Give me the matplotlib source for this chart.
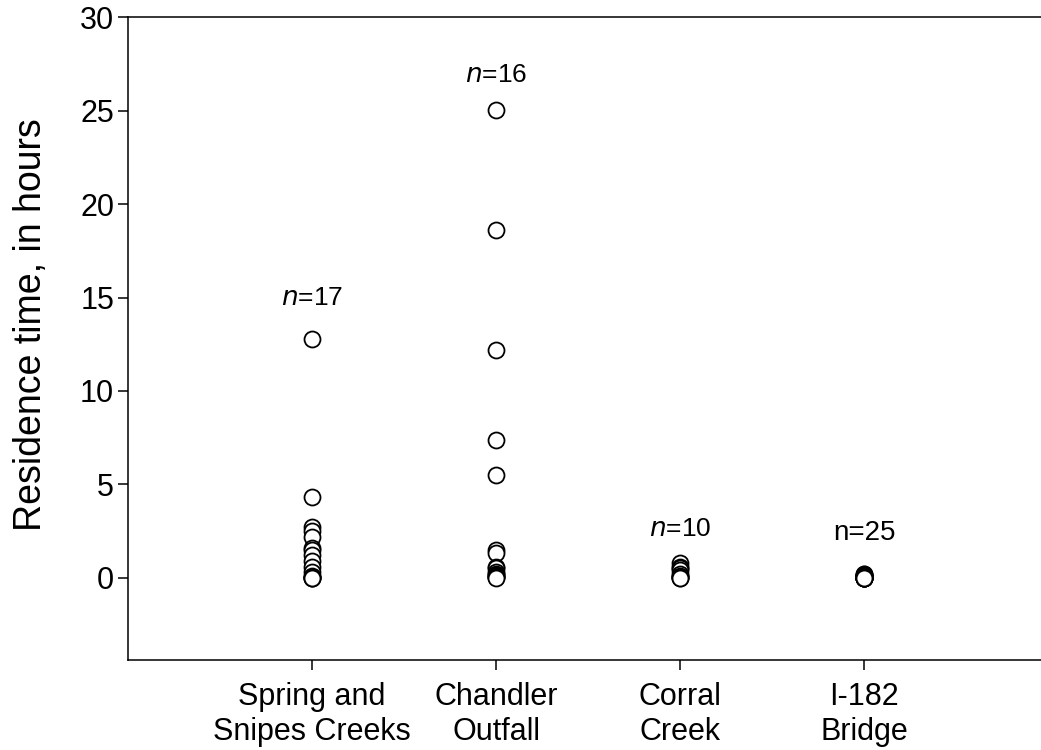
import numpy as np
import matplotlib
matplotlib.use("Agg")
import matplotlib.pyplot as plt

plt.rcParams['font.family'] = ['Liberation Sans', 'DejaVu Sans']

sites = ["Spring and\nSnipes Creeks", "Chandler\nOutfall", "Corral\nCreek", "I-182\nBridge"]

spring = [12.8, 4.3, 2.7, 2.5, 2.2, 1.6, 1.5, 1.2, 0.9, 0.6, 0.3, 0.1, 0.05, 0.02, 0.0, 0.0, 0.0]
chandler = [25.05, 18.6, 12.2, 7.4, 5.5, 1.5, 1.3, 0.6, 0.5, 0.3, 0.2, 0.15, 0.1, 0.05, 0.02, 0.0]
corral = [0.8, 0.6, 0.5, 0.4, 0.2, 0.1, 0.05, 0.02, 0.0, 0.0]
bridge = [0.2, 0.18, 0.15, 0.12, 0.1, 0.1, 0.08, 0.07, 0.06, 0.05, 0.05, 0.04, 0.03,
          0.03, 0.02, 0.02, 0.02, 0.01, 0.01, 0.01, 0.0, 0.0, 0.0, 0.0, 0.0]

groups = [spring, chandler, corral, bridge]
n_labels = [r"$\it{n}$=17", r"$\it{n}$=16", r"$\it{n}$=10", "n=25"]
label_y = [15.0, 26.9, 2.6, 2.4]

fig = plt.figure(figsize=(10.41, 7.5), dpi=100)
ax = fig.add_axes([0.123, 0.12, 0.884, 0.857])

for i, vals in enumerate(groups):
    x = np.full(len(vals), i + 1)
    ax.plot(x, vals, 'o', ms=11.5, mfc='white', mec='black', mew=1.3, ls='none')
    fs = 20 if i == 3 else 19
    ax.text(i + 1, label_y[i], n_labels[i], ha='center', va='center', fontsize=fs)

ax.set_xlim(0, 5)
ax.set_ylim(-4.4, 30)
ax.set_yticks([0, 5, 10, 15, 20, 25, 30])
ax.set_xticks([1, 2, 3, 4])
ax.set_xticklabels(sites, linespacing=1.2)
ax.tick_params(axis='both', direction='out', length=7, width=1.1, labelsize=22)
ax.tick_params(axis='y', pad=3)
ax.tick_params(axis='x', pad=9)
ax.set_ylabel("Residence time, in hours", fontsize=27, labelpad=22, y=0.522)
for s in ['left', 'bottom', 'top']:
    ax.spines[s].set_linewidth(1.1)
ax.spines['right'].set_visible(False)

fig.savefig("out.png", dpi=100)
